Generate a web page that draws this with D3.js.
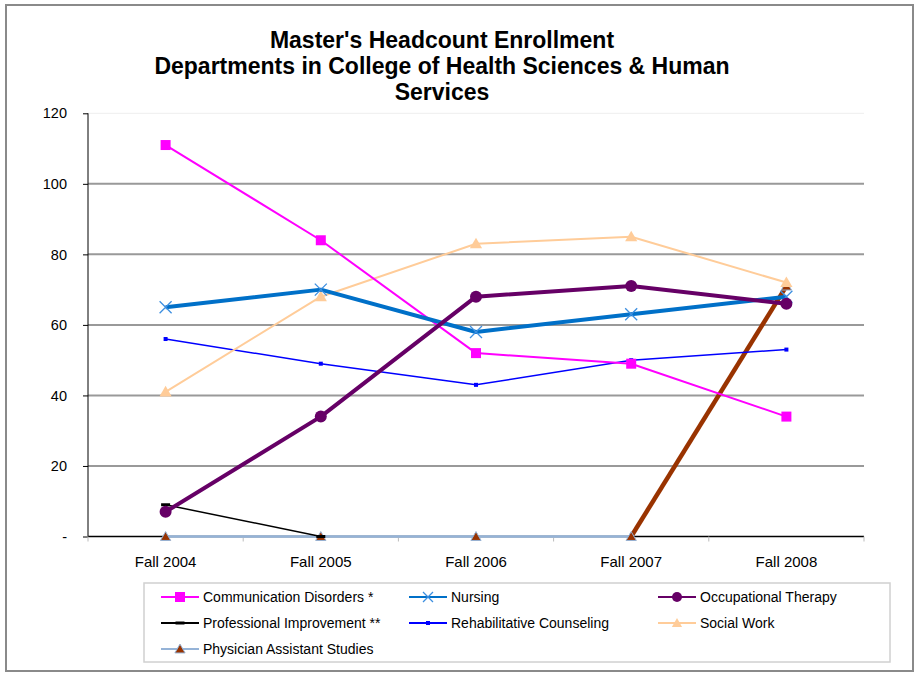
<!DOCTYPE html>
<html>
<head>
<meta charset="utf-8">
<script src="https://cdn.jsdelivr.net/npm/d3@7"></script>
<style>
  body { margin: 0; background: #fff; }
  svg { font-family: "Liberation Sans", Arial, sans-serif; }
</style>
</head>
<body>
<svg id="chart" width="915" height="673"></svg>
<script>
const titleLines = ["Master's Headcount Enrollment", "Departments in College of Health Sciences & Human", "Services"];
const terms = ['Fall 2004', 'Fall 2005', 'Fall 2006', 'Fall 2007', 'Fall 2008'];
const yTicks = [0, 20, 40, 60, 80, 100, 120];

const commDisorders = [111, 84, 52, 49, 34];
const nursing = [65, 70, 58, 63, 68];
const occTherapy = [7, 34, 68, 71, 66];
const profImprovement = [9, 0, null, null, null];
const rehabCounseling = [56, 49, 43, 50, 53];
const socialWork = [41, 68, 83, 85, 72];
const physicianAsst = [0, 0, 0, 0, 71];

const series = [
  { name: 'Communication Disorders *', values: commDisorders, color: '#ff00ff', width: 2, marker: 'square', size: 10 },
  { name: 'Nursing', values: nursing, color: '#0070c8', width: 4, marker: 'cross', size: 12, markerColor: '#3d8fe0' },
  { name: 'Occupational Therapy', values: occTherapy, color: '#660066', width: 4, marker: 'circle', size: 12 },
  { name: 'Professional Improvement **', values: profImprovement, color: '#000000', width: 1.5, marker: 'dash', size: 9 },
  { name: 'Rehabilitative Counseling', values: rehabCounseling, color: '#0000ff', width: 1.5, marker: 'square', size: 4 },
  { name: 'Social Work', values: socialWork, color: '#ffcc99', width: 2, marker: 'triangle', size: 12 },
  { name: 'Physician Assistant Studies', values: physicianAsst, color: '#95b3d7', width: 2.5, marker: 'triangle', size: 10, markerColor: '#993300', lastSeg: '#993300' }
];
// order in which Excel painted the lines (last one on top)
const drawOrder = [6, 3, 4, 5, 0, 1, 2];

const svg = d3.select('#chart');

svg.append('rect')
  .attr('x', 6).attr('y', 5).attr('width', 907).attr('height', 666)
  .attr('fill', '#fff').attr('stroke', '#8a8a8a').attr('stroke-width', 2);

const title = svg.append('text')
  .attr('text-anchor', 'middle')
  .attr('font-weight', 'bold')
  .attr('font-size', 23)
  .attr('fill', '#000');
titleLines.forEach((t, i) => {
  title.append('tspan').attr('x', 442).attr('y', 48 + i * 26).text(t);
});

const x = d3.scaleBand().domain(terms).range([88, 864]).paddingInner(0).paddingOuter(0);
const y = d3.scaleLinear().domain([0, 120]).range([536.5, 113.3]);
const cx = d => x(d) + x.bandwidth() / 2;

// gridlines
svg.append('g')
  .selectAll('line')
  .data(yTicks.filter(d => d > 0))
  .join('line')
  .attr('x1', 88).attr('x2', 864)
  .attr('y1', d => y(d)).attr('y2', d => y(d))
  .attr('stroke', d => d === 120 ? '#eeeeee' : '#999999')
  .attr('stroke-width', d => d === 120 ? 1 : 2);

// y axis
const yAxis = svg.append('g')
  .attr('transform', 'translate(88,0)')
  .call(d3.axisLeft(y).tickValues(yTicks).tickSize(5).tickPadding(16)
    .tickFormat(d => d === 0 ? '-' : d));
yAxis.select('.domain').attr('stroke', '#000').attr('d', `M0,${y(120)}V${y(0)}`);
yAxis.selectAll('.tick line').attr('stroke', '#000');
yAxis.selectAll('.tick text').attr('font-size', 14.5).attr('fill', '#000')
  .attr('font-family', '"Liberation Sans", Arial, sans-serif');

// x axis
const xAxis = svg.append('g')
  .attr('transform', `translate(0,${y(0)})`)
  .call(d3.axisBottom(x).tickSize(0).tickPadding(20));
xAxis.select('.domain').remove();
xAxis.selectAll('.tick text').attr('font-size', 15).attr('fill', '#000')
  .attr('font-family', '"Liberation Sans", Arial, sans-serif');
xAxis.append('line')
  .attr('x1', 88).attr('x2', 864).attr('y1', 0).attr('y2', 0)
  .attr('stroke', '#000').attr('stroke-width', 1.5);
xAxis.selectAll('line.sep')
  .data(terms.map(t => x(t)).concat([864]))
  .join('line')
  .attr('class', 'sep')
  .attr('x1', d => d).attr('x2', d => d)
  .attr('y1', 0).attr('y2', 5)
  .attr('stroke', '#bbb');

function drawMarker(g, s, px, py) {
  const c = s.markerColor || s.color;
  const h = s.size / 2;
  if (s.marker === 'square') {
    g.append('rect').attr('x', px - h).attr('y', py - h)
      .attr('width', s.size).attr('height', s.size).attr('fill', c);
  } else if (s.marker === 'circle') {
    g.append('circle').attr('cx', px).attr('cy', py).attr('r', h).attr('fill', c);
  } else if (s.marker === 'cross') {
    g.append('path')
      .attr('d', `M${px - h},${py - h}L${px + h},${py + h}M${px - h},${py + h}L${px + h},${py - h}`)
      .attr('stroke', c).attr('stroke-width', 1.3).attr('fill', 'none');
  } else if (s.marker === 'dash') {
    g.append('rect').attr('x', px - h).attr('y', py - 1.5)
      .attr('width', s.size).attr('height', 3).attr('fill', c);
  } else if (s.marker === 'triangle') {
    const sym = d3.symbol().type(d3.symbolTriangle).size(s.size * s.size * 0.45);
    g.append('path').attr('d', sym()).attr('transform', `translate(${px},${py + 1})`)
      .attr('fill', c)
      .attr('stroke', s.markerColor ? '#95b3d7' : 'none').attr('stroke-width', 1);
  }
}

const line = d3.line()
  .defined(d => d.v !== null)
  .x(d => cx(d.t))
  .y(d => y(d.v));

const plot = svg.append('g');
drawOrder.forEach(i => {
  const s = series[i];
  const pts = terms.map((t, j) => ({ t, v: s.values[j] }));
  const g = plot.append('g');
  if (s.lastSeg) {
    g.append('path').datum(pts.slice(0, 4)).attr('d', line)
      .attr('fill', 'none').attr('stroke', s.color).attr('stroke-width', s.width);
    g.append('path').datum(pts.slice(3)).attr('d', line)
      .attr('fill', 'none').attr('stroke', s.lastSeg).attr('stroke-width', 4.5);
  } else {
    g.append('path').datum(pts).attr('d', line)
      .attr('fill', 'none').attr('stroke', s.color).attr('stroke-width', s.width)
      .attr('stroke-linejoin', 'round');
  }
  pts.filter(d => d.v !== null).forEach(d => drawMarker(g, s, cx(d.t), y(d.v)));
});

// legend
const legend = svg.append('g');
legend.append('rect')
  .attr('x', 144).attr('y', 583).attr('width', 746).attr('height', 79)
  .attr('fill', '#fff').attr('stroke', '#d0d0d0').attr('stroke-width', 1.5);

const colX = [161, 409, 658];
const rowY = [597, 623, 649];
series.forEach((s, i) => {
  const lx = colX[i % 3];
  const ly = rowY[Math.floor(i / 3)];
  const g = legend.append('g');
  g.append('line').attr('x1', lx).attr('x2', lx + 38).attr('y1', ly).attr('y2', ly)
    .attr('stroke', s.color).attr('stroke-width', 2);
  const ms = Object.assign({}, s, { size: s.marker === 'circle' ? 10 : Math.min(s.size, 10) });
  drawMarker(g, ms, lx + 19, ly);
  g.append('text').attr('x', lx + 42).attr('y', ly + 5)
    .attr('font-size', 14).attr('fill', '#000').text(s.name);
});
</script>
</body>
</html>
